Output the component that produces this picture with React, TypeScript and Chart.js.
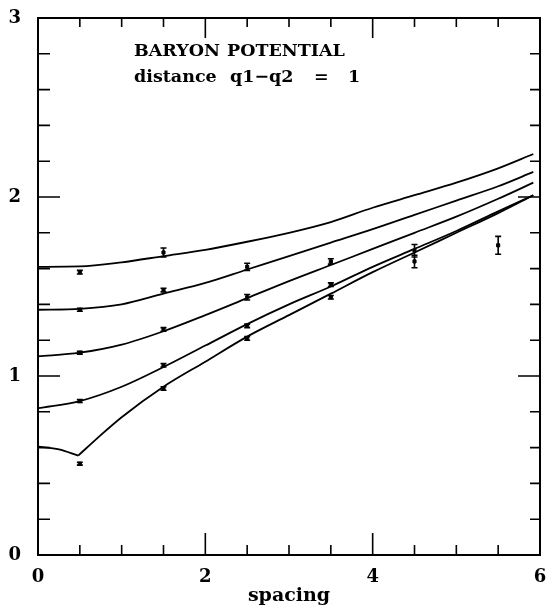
import React, { useEffect, useRef } from "react";
import { Chart, registerables } from "chart.js";

Chart.register(...registerables);

// ---- data ----
const curveX = [0, 0.5, 1, 1.5, 2, 2.5, 3, 3.5, 4, 4.5, 5, 5.5, 5.92];
const curve1 = [1.61, 1.612, 1.635, 1.67, 1.705, 1.75, 1.8, 1.86, 1.94, 2.01, 2.08, 2.16, 2.24];
const curve2 = [1.37, 1.375, 1.4, 1.46, 1.52, 1.595, 1.67, 1.745, 1.82, 1.9, 1.98, 2.06, 2.14];
const curve3 = [1.11, 1.13, 1.175, 1.25, 1.34, 1.435, 1.53, 1.62, 1.71, 1.8, 1.89, 1.99, 2.08];
const curve4 = [0.82, 0.86, 0.94, 1.05, 1.17, 1.29, 1.4, 1.5, 1.61, 1.71, 1.81, 1.92, 2.01];
const curve5LeftX = [0, 0.25, 0.48];
const curve5Left = [0.605, 0.59, 0.555];
const curve5RightX = [0.48, 0.75, 1, 1.5, 2, 2.5, 3, 3.5, 4, 4.5, 5, 5.5, 5.92];
const curve5Right = [0.555, 0.67, 0.77, 0.94, 1.08, 1.22, 1.34, 1.46, 1.58, 1.69, 1.8, 1.91, 2.01];

const pointX = [0.5, 0.5, 0.5, 0.5, 0.5, 1.5, 1.5, 1.5, 1.5, 1.5, 2.5, 2.5, 2.5, 2.5, 3.5, 3.5, 3.5, 4.5, 4.5, 5.5];
const pointY = [1.58, 1.37, 1.13, 0.86, 0.51, 1.69, 1.48, 1.26, 1.06, 0.93, 1.61, 1.44, 1.28, 1.21, 1.64, 1.51, 1.44, 1.7, 1.64, 1.73];
const pointErr = [0.01, 0.008, 0.008, 0.008, 0.008, 0.025, 0.01, 0.01, 0.01, 0.01, 0.02, 0.015, 0.01, 0.01, 0.015, 0.01, 0.01, 0.035, 0.035, 0.05];

const xMajorLabels = [0, 2, 4, 6];
const yMajorLabels = [0, 1, 2, 3];
const annotationLine1 = ["BARYON", "POTENTIAL"];
const annotationLine2 = ["distance", "q1\u2212q2", "=", "1"];
const xTitle = "spacing";

// text layout (pixel offsets of each word from the start of its line)
const line1Offsets = [0, 93];
const line2Offsets = [0, 96, 180, 214];

const toXY = (xs: number[], ys: number[]) => xs.map((x, i) => ({ x, y: ys[i] }));

const isMajor = (v: number, list: number[]) => list.some((m) => Math.abs(m - v) < 1e-6);

const framePlugin = {
  id: "frameTicks",
  afterDatasetsDraw(chart: any) {
    const { ctx, chartArea: a, scales } = chart;
    const xs = scales.x;
    const ys = scales.y;
    ctx.save();
    ctx.strokeStyle = "#000";
    ctx.lineWidth = 2;
    ctx.strokeRect(a.left, a.top, a.right - a.left, a.bottom - a.top);
    ctx.lineWidth = 1.6;
    ctx.beginPath();
    xs.ticks.forEach((t: any) => {
      const px = xs.getPixelForValue(t.value);
      const major = isMajor(t.value, xMajorLabels);
      const lb = major ? 22 : 10;
      const lt = major ? 20 : 9;
      ctx.moveTo(px, a.bottom);
      ctx.lineTo(px, a.bottom - lb);
      ctx.moveTo(px, a.top);
      ctx.lineTo(px, a.top + lt);
    });
    ys.ticks.forEach((t: any) => {
      const py = ys.getPixelForValue(t.value);
      const major = isMajor(t.value, yMajorLabels);
      const ll = major ? 22 : 12;
      const lr = major ? 22 : 10;
      ctx.moveTo(a.left, py);
      ctx.lineTo(a.left + ll, py);
      ctx.moveTo(a.right, py);
      ctx.lineTo(a.right - lr, py);
    });
    ctx.stroke();

    // error bars
    const ds = chart.data.datasets.find((d: any) => d.label === "points");
    if (ds) {
      ctx.lineWidth = 1.6;
      ctx.beginPath();
      ds.data.forEach((p: any) => {
        const px = xs.getPixelForValue(p.x);
        const y1 = ys.getPixelForValue(p.y - p.err);
        const y2 = ys.getPixelForValue(p.y + p.err);
        ctx.moveTo(px, y1);
        ctx.lineTo(px, y2);
        ctx.moveTo(px - 3, y1);
        ctx.lineTo(px + 3, y1);
        ctx.moveTo(px - 3, y2);
        ctx.lineTo(px + 3, y2);
      });
      ctx.stroke();
    }

    // annotation text
    ctx.fillStyle = "#000";
    ctx.textBaseline = "alphabetic";
    ctx.textAlign = "left";
    ctx.font = 'bold 17.5px "DejaVu Serif"';
    const x0 = 134;
    annotationLine1.forEach((w, i) => ctx.fillText(w, x0 + line1Offsets[i], 56));
    annotationLine2.forEach((w, i) => ctx.fillText(w, x0 + line2Offsets[i], 82));
    ctx.restore();
  },
};

export default function App() {
  const ref = useRef<HTMLCanvasElement | null>(null);
  useEffect(() => {
    if (!ref.current) return;
    const line = (data: any[]) => ({
      type: "line" as const,
      data,
      borderColor: "#000",
      borderWidth: 1.8,
      pointRadius: 0,
      fill: false,
      cubicInterpolationMode: "monotone" as const,
    });
    const chart = new Chart(ref.current, {
      type: "line",
      data: {
        datasets: [
          { label: "c1", ...line(toXY(curveX, curve1)) },
          { label: "c2", ...line(toXY(curveX, curve2)) },
          { label: "c3", ...line(toXY(curveX, curve3)) },
          { label: "c4", ...line(toXY(curveX, curve4)) },
          { label: "c5a", ...line(toXY(curve5LeftX, curve5Left)) },
          { label: "c5b", ...line(toXY(curve5RightX, curve5Right)) },
          {
            label: "points",
            type: "scatter" as const,
            data: pointX.map((x, i) => ({ x, y: pointY[i], err: pointErr[i] })),
            backgroundColor: "#000",
            borderColor: "#000",
            pointStyle: "rect",
            pointRadius: 2.2,
            showLine: false,
          } as any,
        ],
      },
      options: {
        animation: false,
        responsive: true,
        maintainAspectRatio: false,
        layout: { padding: { left: 0, right: 9, top: 18, bottom: 0 } },
        plugins: { legend: { display: false }, tooltip: { enabled: false } },
        scales: {
          x: {
            type: "linear",
            min: 0,
            max: 6,
            grid: { display: false, drawTicks: false },
            border: { display: false },
            ticks: {
              stepSize: 0.5,
              autoSkip: false,
              maxRotation: 0,
              padding: 12,
              color: "#000",
              font: { family: "DejaVu Serif", size: 18, weight: "bold" },
              callback: (v: any) => (isMajor(Number(v), xMajorLabels) ? String(Math.round(Number(v))) : ""),
            },
            title: {
              display: true,
              text: xTitle,
              color: "#000",
              font: { family: "DejaVu Serif", size: 19, weight: "bold" },
              padding: { top: 0, bottom: 1 },
            },
            afterFit: (s: any) => {
              s.height = 53;
              s.paddingLeft = 0;
              s.paddingRight = 0;
            },
          },
          y: {
            type: "linear",
            min: 0,
            max: 3,
            grid: { display: false, drawTicks: false },
            border: { display: false },
            ticks: {
              stepSize: 0.2,
              autoSkip: false,
              padding: 17,
              color: "#000",
              font: { family: "DejaVu Serif", size: 18, weight: "bold" },
              callback: (v: any) => (isMajor(Number(v), yMajorLabels) ? String(Math.round(Number(v))) : ""),
            },
            afterFit: (s: any) => {
              s.width = 38;
              s.paddingTop = 0;
              s.paddingBottom = 0;
            },
          },
        },
      },
      plugins: [framePlugin],
    });
    return () => chart.destroy();
  }, []);
  return (
    <div style={{ position: "absolute", left: 0, top: 0, width: 549, height: 608, background: "#fff" }}>
      <canvas ref={ref} />
    </div>
  );
}
